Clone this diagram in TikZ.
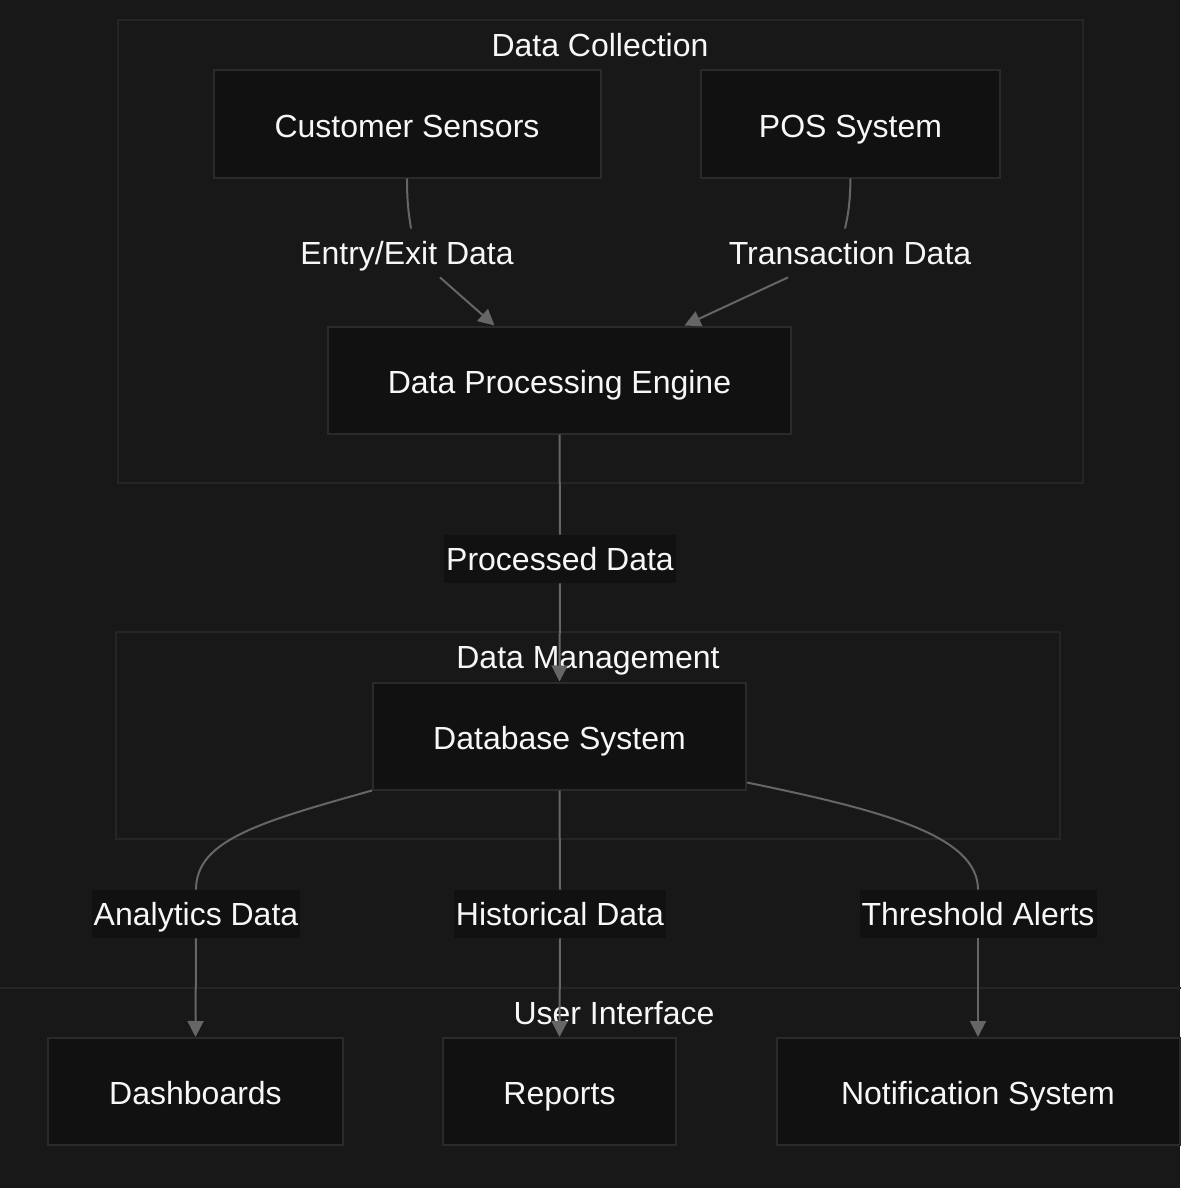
\documentclass[tikz,border=0pt]{standalone}
\usepackage{fontspec}
\setmainfont{Liberation Sans}
\usetikzlibrary{arrows.meta}
\definecolor{bgcol}{HTML}{181818}
\definecolor{boxcol}{HTML}{111111}
\definecolor{boxline}{HTML}{2A2A2A}
\definecolor{grpline}{HTML}{252525}
\definecolor{linkcol}{HTML}{666666}
\definecolor{txtcol}{HTML}{F7F7F7}
\tikzset{
  unit/.style={draw=boxline,line width=1pt,fill=boxcol,text=txtcol,font=\fontsize{16}{19}\selectfont,minimum height=53.5pt,text height=13pt,text depth=0pt},
  group/.style={draw=grpline,line width=1pt},
  grouptitle/.style={text=txtcol,font=\fontsize{16}{19}\selectfont,text height=11.5pt,text depth=0pt},
  flowlabel/.style={text=txtcol,font=\fontsize{16}{19}\selectfont,inner xsep=1pt,minimum height=24pt,text height=11pt,text depth=0pt},
  flow/.style={draw=linkcol,line width=1pt},
  flowarrow/.style={flow,-{Triangle[length=8pt,width=8pt]}}
}
\begin{document}
\begin{tikzpicture}[x=0.5pt,y=-0.5pt]
\useasboundingbox (0,0) rectangle (1180,1188);
\fill[bgcol] (0,0) rectangle (1180,1188);
\draw[group] (118,20) rectangle (1083,483);
\draw[group] (116,632) rectangle (1060,839);
\draw[group] (-5,988) rectangle (1190,1200);
\node[grouptitle] (ttlcollect) at (600,45) {Data Collection};
\node[grouptitle] (ttlmanage) at (588,657) {Data Management};
\node[grouptitle] (ttlui) at (614,1013) {User Interface};
\node[unit,minimum width=193.5pt] (sensors) at (407,124) {Customer Sensors};
\node[unit,minimum width=149.5pt] (pos) at (850.5,124) {POS System};
\node[unit,minimum width=231.5pt] (engine) at (559.5,380) {Data Processing Engine};
\node[unit,minimum width=186.5pt] (database) at (559.5,736) {Database System};
\node[unit,minimum width=147.5pt] (dash) at (195.5,1091.5) {Dashboards};
\node[unit,minimum width=116.5pt] (reports) at (559.5,1091.5) {Reports};
\node[unit,minimum width=201.5pt] (notify) at (978,1091.5) {Notification System};
\node[flowlabel] (lblentry) at (407,253) {Entry/Exit Data};
\node[flowlabel] (lbltrans) at (850,253) {Transaction Data};
\node[flowlabel,fill=boxcol] (lblproc) at (560,559) {Processed Data};
\node[flowlabel,fill=boxcol] (lblanal) at (196,914) {Analytics Data};
\node[flowlabel,fill=boxcol] (lblhist) at (560,914) {Historical Data};
\node[flowlabel,fill=boxcol] (lblthresh) at (978,914) {Threshold Alerts};
\draw[flow] (sensors.south) .. controls (407,205) and (409,215) .. ([xshift=2pt]lblentry.north);
\draw[flowarrow] ([xshift=16.5pt]lblentry.south) -- ([xshift=-32.5pt]engine.north);
\draw[flow] (pos.south) .. controls (850,205) and (848,215) .. ([xshift=-2.5pt]lbltrans.north);
\draw[flowarrow] ([xshift=-31pt]lbltrans.south) -- ([xshift=62.5pt]engine.north);
\draw[flow] (engine.south) -- (lblproc.north);
\draw[flowarrow] (lblproc.south) -- (database.north);
\draw[flow] (database.south west) .. controls (260,822) and (196,840) .. (lblanal.north);
\draw[flowarrow] (lblanal.south) -- (dash.north);
\draw[flow] (database.south) -- (lblhist.north);
\draw[flowarrow] (lblhist.south) -- (reports.north);
\draw[flow] ([yshift=4pt]database.south east) .. controls (880,810) and (978,835) .. (lblthresh.north);
\draw[flowarrow] (lblthresh.south) -- (notify.north);
\end{tikzpicture}
\end{document}
